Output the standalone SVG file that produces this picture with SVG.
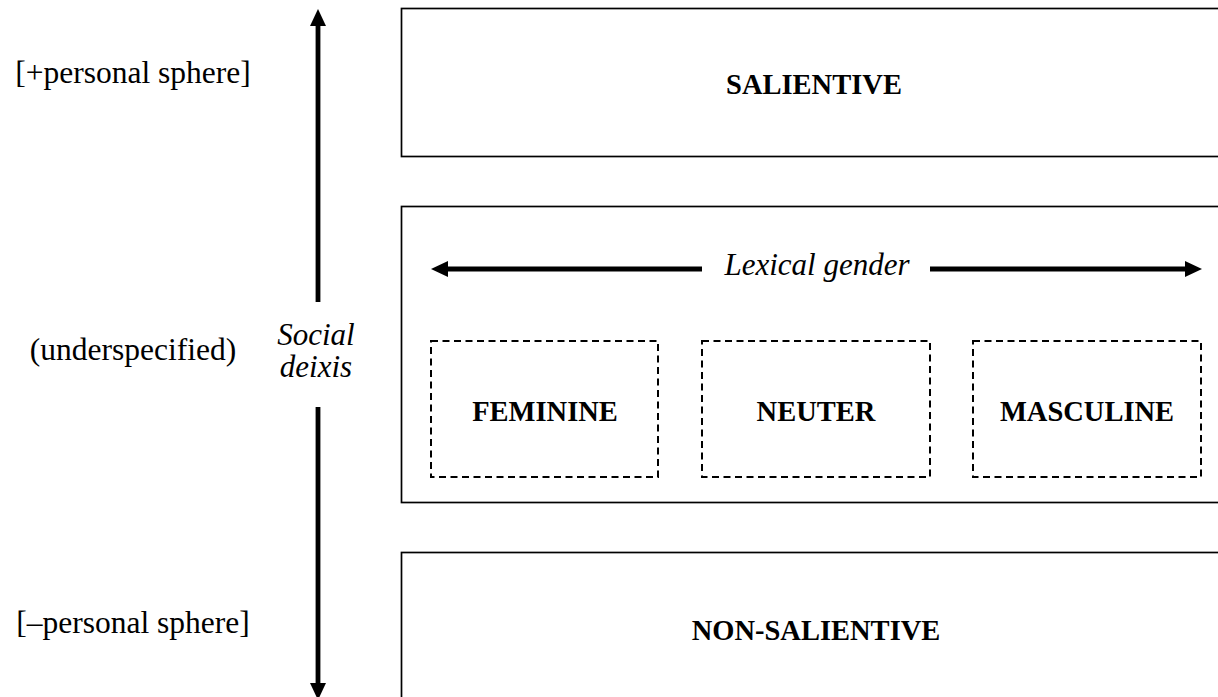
<svg xmlns="http://www.w3.org/2000/svg" width="1218" height="697" viewBox="0 0 1218 697">
<style>
.box{fill:#fff;stroke:#000;stroke-width:1.7}
.dbox{fill:none;stroke:#000;stroke-width:2;stroke-dasharray:7 4.5}
.arr{stroke:#000;stroke-width:4.8;fill:none}
.reg{font-family:"Liberation Serif","Times New Roman",serif;font-size:31.5px;fill:#000}
.it{font-family:"Liberation Serif","Times New Roman",serif;font-size:31px;font-style:italic;fill:#000}
.bold{font-family:"Liberation Serif","Times New Roman",serif;font-size:28.5px;font-weight:bold;fill:#000}
</style>
<defs>
<marker id="ah" markerUnits="userSpaceOnUse" markerWidth="17" markerHeight="17" viewBox="0 0 17 17" refX="1" refY="8.5" orient="auto">
<path d="M0,0.5 L17,8.5 L0,16.5 Z" fill="#000"/>
</marker>
</defs>
<g id="labels-left">
<text class="reg" x="133" y="83" text-anchor="middle">[+personal sphere]</text>
<text class="reg" x="133" y="360" text-anchor="middle">(underspecified)</text>
<text class="reg" x="133" y="633" text-anchor="middle">[–personal sphere]</text>
<text class="it" x="316" y="345" text-anchor="middle">Social</text>
<text class="it" x="316" y="377" text-anchor="middle">deixis</text>
</g>
<g id="salientive">
<rect class="box" x="401.5" y="8.5" width="830" height="148"/>
<text class="bold" x="814" y="94" text-anchor="middle">SALIENTIVE</text>
</g>
<g id="underspecified">
<rect class="box" x="401.5" y="206.5" width="830" height="296"/>
<text class="it" x="817" y="275" text-anchor="middle">Lexical gender</text>
</g>
<g id="feminine">
<rect class="dbox" x="431" y="341" width="227" height="136"/>
<text class="bold" x="545" y="421" text-anchor="middle">FEMININE</text>
</g>
<g id="neuter">
<rect class="dbox" x="702" y="341" width="228" height="136"/>
<text class="bold" x="816" y="421" text-anchor="middle">NEUTER</text>
</g>
<g id="masculine">
<rect class="dbox" x="973" y="341" width="228" height="136"/>
<text class="bold" x="1087" y="421" text-anchor="middle">MASCULINE</text>
</g>
<g id="non-salientive">
<rect class="box" x="401.5" y="552.5" width="830" height="160"/>
<text class="bold" x="816" y="640" text-anchor="middle">NON-SALIENTIVE</text>
</g>
<g id="connectors">
<line class="arr" x1="318" y1="302" x2="318" y2="25" marker-end="url(#ah)"/>
<line class="arr" x1="318" y1="407" x2="318" y2="684" marker-end="url(#ah)"/>
<line class="arr" x1="702" y1="269" x2="447" y2="269" marker-end="url(#ah)"/>
<line class="arr" x1="930" y1="269" x2="1186" y2="269" marker-end="url(#ah)"/>
</g>
</svg>
